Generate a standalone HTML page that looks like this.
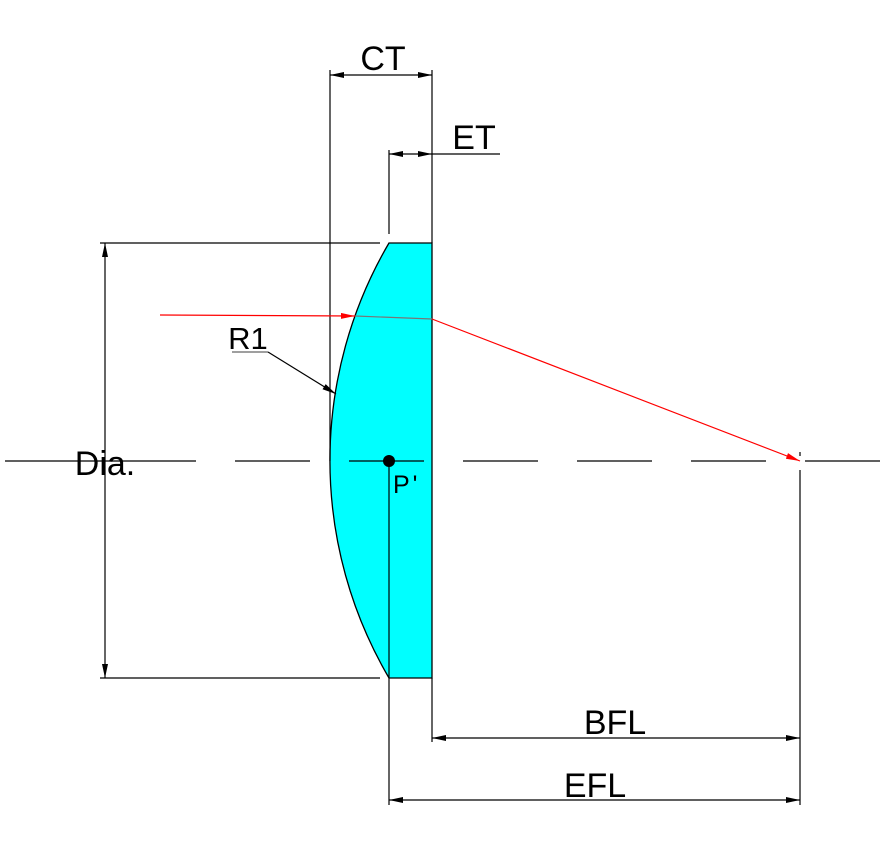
<!DOCTYPE html>
<html><head><style>body{margin:0;background:#fff}svg{display:block}text{font-family:"Liberation Sans",sans-serif;fill:#000}</style></head>
<body>
<svg width="883" height="850" viewBox="0 0 883 850" xmlns="http://www.w3.org/2000/svg">
<defs>
<marker id="a" viewBox="0 0 14 6" refX="14" refY="3" markerWidth="16" markerHeight="6" markerUnits="userSpaceOnUse" orient="auto-start-reverse"><path d="M0,0L14,3L0,6z" fill="#000"/></marker>
<marker id="r" viewBox="0 0 14 6" refX="14" refY="3" markerWidth="16" markerHeight="6" markerUnits="userSpaceOnUse" orient="auto"><path d="M0,0L14,3L0,6z" fill="#f00"/></marker>
</defs>
<path d="M389,243 A430,430 0 0 0 389,678 L432,678 L432,243 Z" fill="#00ffff" stroke="#000" stroke-width="1.3"/>
<g stroke="#000" stroke-width="1.2" fill="none">
<line x1="330" y1="70" x2="330" y2="461"/>
<line x1="432" y1="70" x2="432" y2="243"/>
<line x1="330" y1="75" x2="432" y2="75" marker-start="url(#a)" marker-end="url(#a)"/>
<line x1="389" y1="150" x2="389" y2="234"/>
<line x1="432" y1="154" x2="500" y2="154"/>
<line x1="389" y1="154" x2="432" y2="154" marker-start="url(#a)" marker-end="url(#a)"/>
<line x1="100" y1="243" x2="380" y2="243"/>
<line x1="100" y1="678" x2="380" y2="678"/>
<line x1="105" y1="243" x2="105" y2="678" marker-start="url(#a)" marker-end="url(#a)"/>
<line x1="5" y1="461" x2="196" y2="461"/>
<line x1="235" y1="461" x2="883" y2="461" stroke-dasharray="75,39"/>
<line x1="232" y1="352" x2="268" y2="352" stroke="#666"/>
<line x1="268" y1="352" x2="336" y2="394" marker-end="url(#a)"/>
<line x1="389" y1="461" x2="389" y2="805"/>
<line x1="432" y1="678" x2="432" y2="742"/>
<line x1="800" y1="452" x2="800" y2="456"/>
<line x1="800" y1="470" x2="800" y2="805"/>
<line x1="432" y1="738" x2="800" y2="738" marker-start="url(#a)" marker-end="url(#a)"/>
<line x1="389" y1="800" x2="800" y2="800" marker-start="url(#a)" marker-end="url(#a)"/>
</g>
<line x1="160" y1="315" x2="355" y2="316" stroke="#f00" stroke-width="1.2" marker-end="url(#r)"/>
<line x1="355" y1="316" x2="432" y2="319" stroke="#777" stroke-width="1.2"/>
<line x1="432" y1="319" x2="800" y2="461" stroke="#f00" stroke-width="1.2" marker-end="url(#r)"/>
<circle cx="389" cy="461" r="6" fill="#000"/>
<text x="383" y="70" font-size="34" text-anchor="middle">CT</text>
<text x="474" y="149" font-size="34" text-anchor="middle">ET</text>
<text x="105" y="475" font-size="34" text-anchor="middle">Dia.</text>
<text x="248" y="349" font-size="31" text-anchor="middle">R1</text>
<text x="393" y="493" font-size="25" letter-spacing="3">P'</text>
<text x="615" y="734" font-size="34" text-anchor="middle">BFL</text>
<text x="595" y="797" font-size="34" text-anchor="middle">EFL</text>
</svg>
</body></html>
